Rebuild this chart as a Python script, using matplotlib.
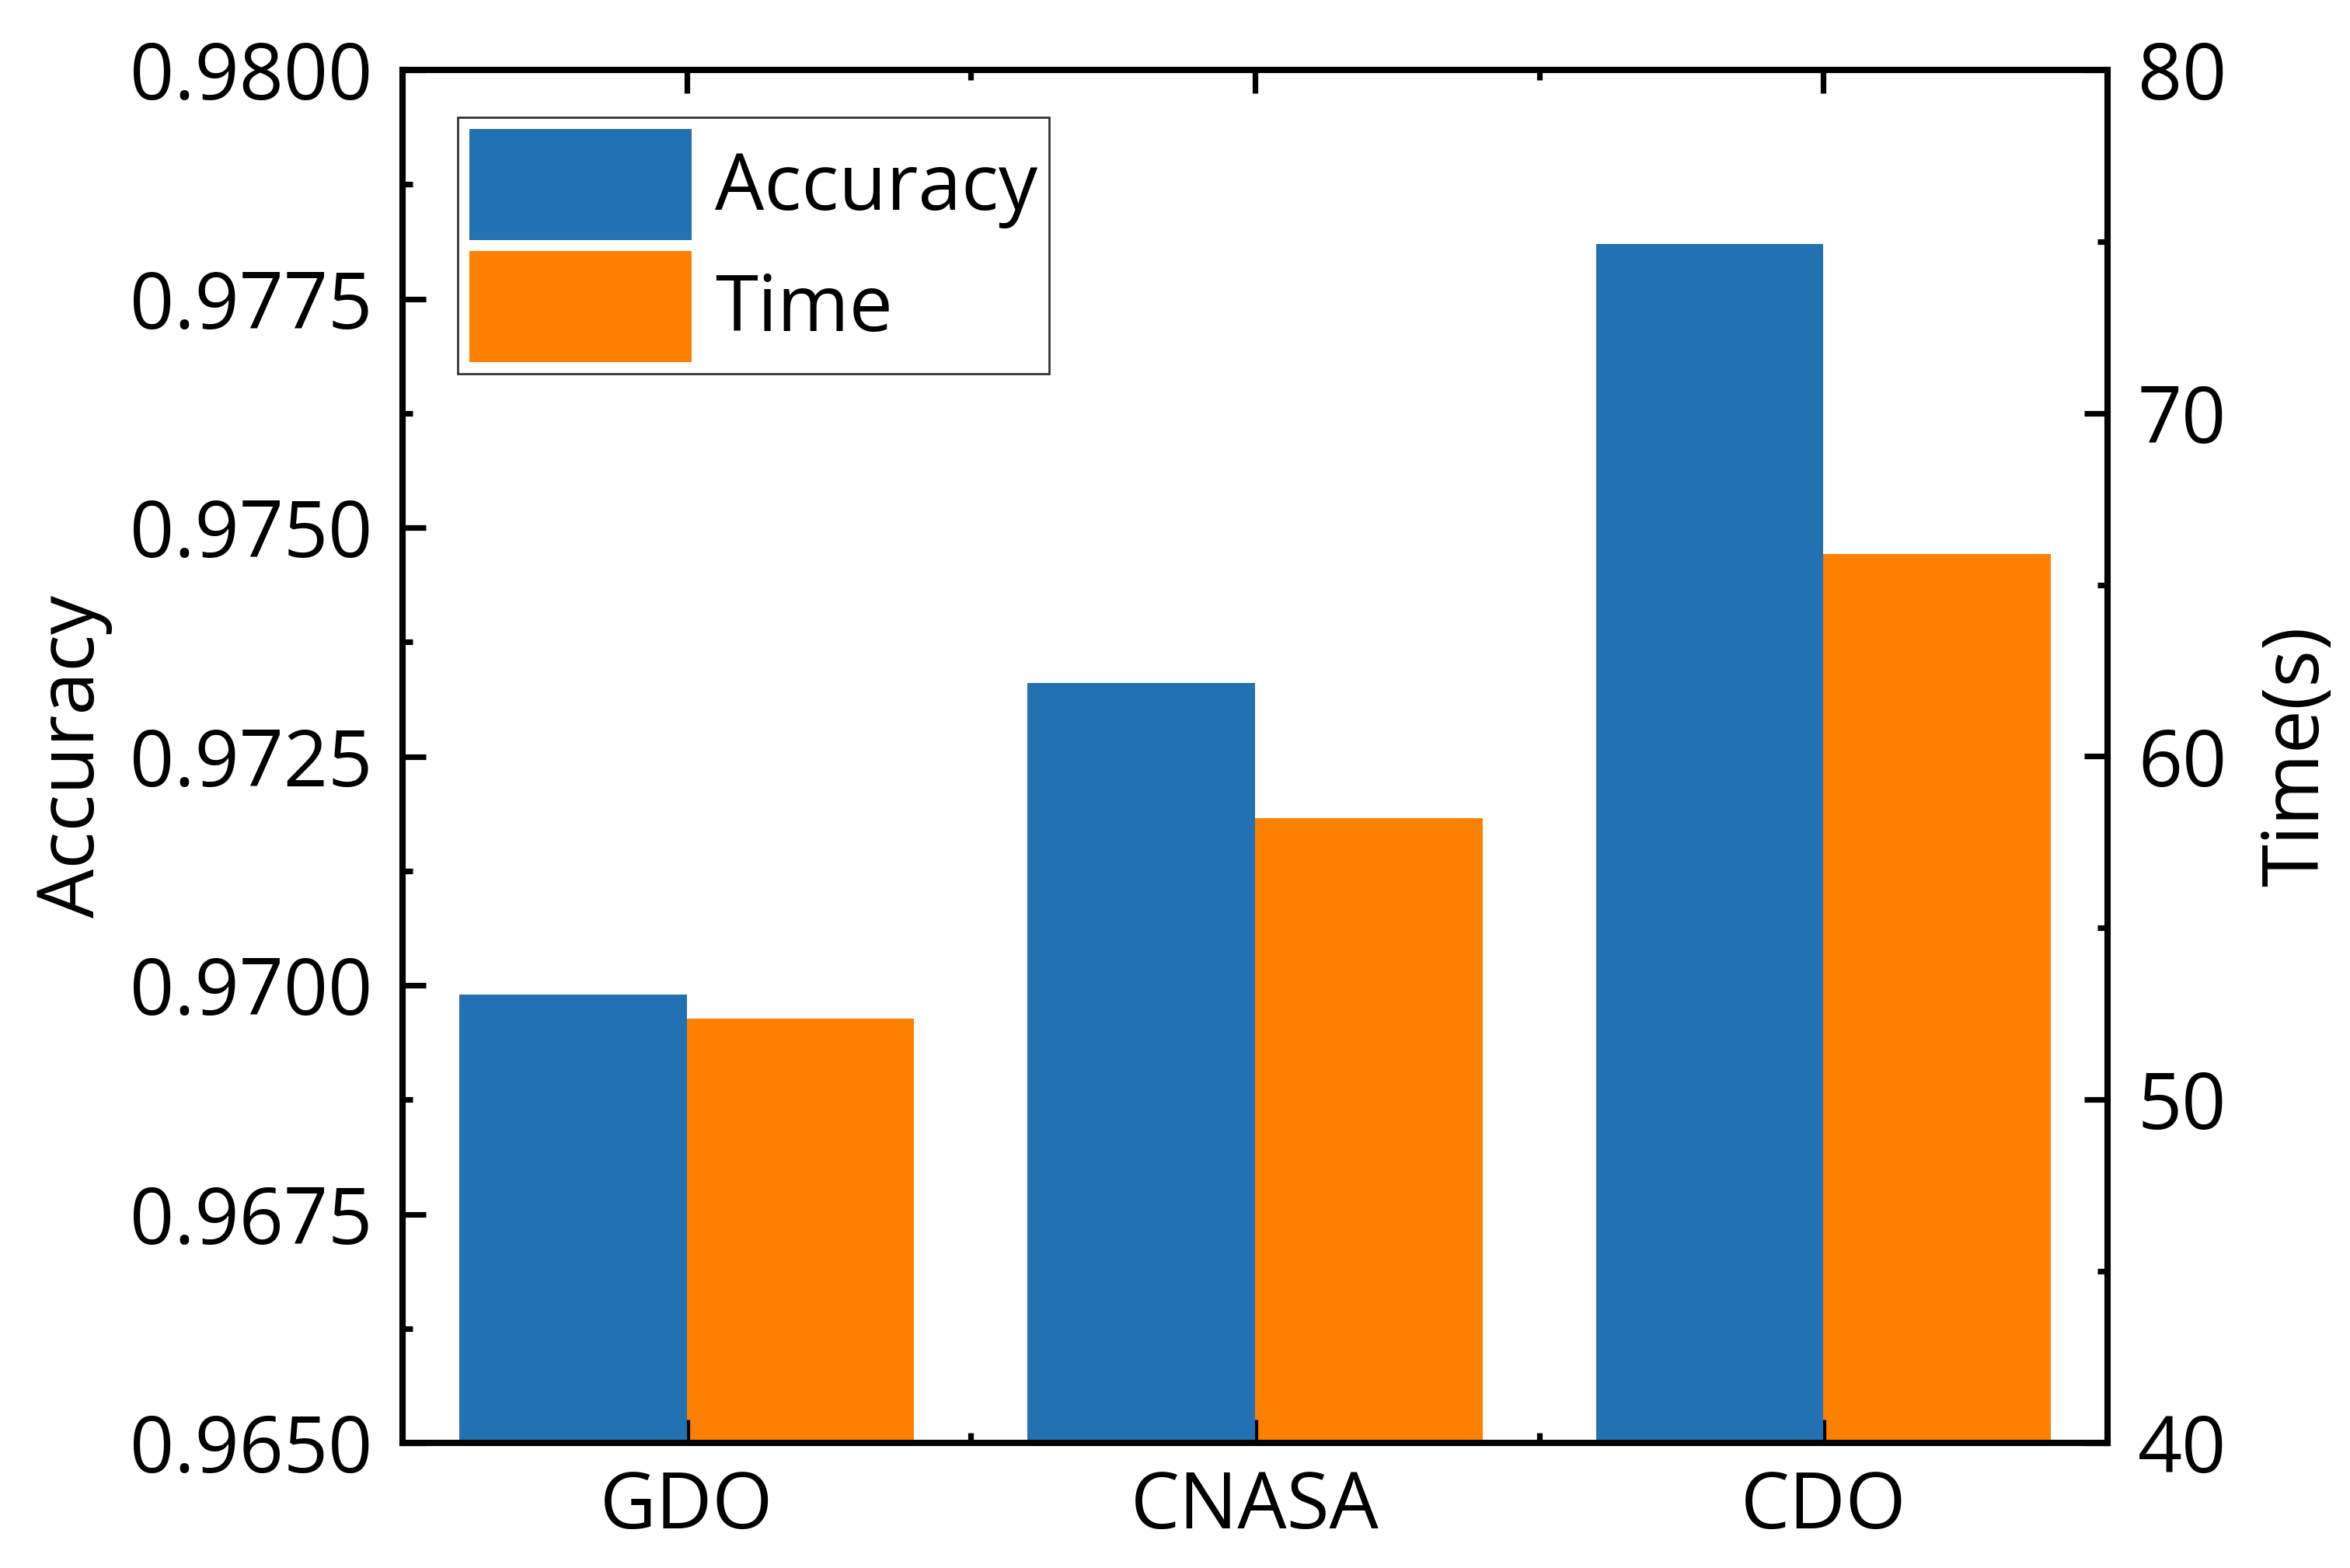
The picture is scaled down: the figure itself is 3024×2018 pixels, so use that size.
import matplotlib
matplotlib.use("Agg")
import matplotlib.pyplot as plt
from matplotlib.ticker import MultipleLocator, FixedLocator, FormatStrFormatter
import numpy as np

categories = ["GDO", "CNASA", "CDO"]
accuracy = [0.9699, 0.9733, 0.9781]
time_s = [52.35, 58.2, 65.9]

plt.rcParams['font.family'] = ['Open Sans', 'DejaVu Sans']
FS = 36

fig = plt.figure(figsize=(15.12, 10.09), dpi=200)
ax = fig.add_axes([518/3024, 1 - 1857/2018, (2712-518)/3024, (1857-90)/2018])
ax2 = ax.twinx()

x = np.arange(len(categories))
w = 0.4
blue = "#2271B3"
orange = "#FF7F00"
b1 = ax.bar(x - w/2, accuracy, width=w, color=blue, linewidth=0, label="Accuracy", zorder=2)
b2 = ax2.bar(x + w/2, time_s, width=w, color=orange, linewidth=0, label="Time", zorder=2)

ax.set_xlim(-0.5, 2.5)
ax.set_ylim(0.9650, 0.9800)
ax2.set_ylim(40, 80)

ax.set_xticks(x)
ax.set_xticklabels(categories)
ax.xaxis.set_minor_locator(FixedLocator([0.5, 1.5]))
ax.yaxis.set_major_locator(MultipleLocator(0.0025))
ax.yaxis.set_minor_locator(MultipleLocator(0.00125))
ax.yaxis.set_major_formatter(FormatStrFormatter('%.4f'))
ax2.yaxis.set_major_locator(MultipleLocator(10))
ax2.yaxis.set_minor_locator(MultipleLocator(5))

lw = 2.9
for a in (ax, ax2):
    for s in a.spines.values():
        s.set_linewidth(lw)
        s.set_zorder(5)

ax.tick_params(axis='both', which='both', direction='in', width=2.6, labelsize=FS)
ax.tick_params(axis='x', which='both', top=True, bottom=True, pad=12)
ax.tick_params(axis='y', which='both', left=True, right=False, pad=14)
ax.tick_params(which='major', length=10.8)
ax.tick_params(which='minor', length=4.7)
ax2.tick_params(axis='y', which='both', direction='in', width=2.6, labelsize=FS, pad=14)
ax2.tick_params(which='major', length=10.8)
ax2.tick_params(which='minor', length=4.7)

ax.set_ylabel("Accuracy", fontsize=FS, labelpad=8)
ax2.set_ylabel("Time(s)", fontsize=FS, labelpad=15)

ax.set_zorder(ax2.get_zorder() + 1)
ax.patch.set_visible(False)

leg = ax.legend([b1, b2], ["Accuracy", "Time"], loc='upper left',
                bbox_to_anchor=(0.0324, 0.9655), borderaxespad=0,
                fontsize=FS, frameon=True, fancybox=False, edgecolor='black',
                handlelength=2.86, handleheight=1.82, handletextpad=0.3,
                labelspacing=0.14, borderpad=0.15)
leg.get_frame().set_linewidth(1.0)

fig.savefig("out.png", dpi=200)
